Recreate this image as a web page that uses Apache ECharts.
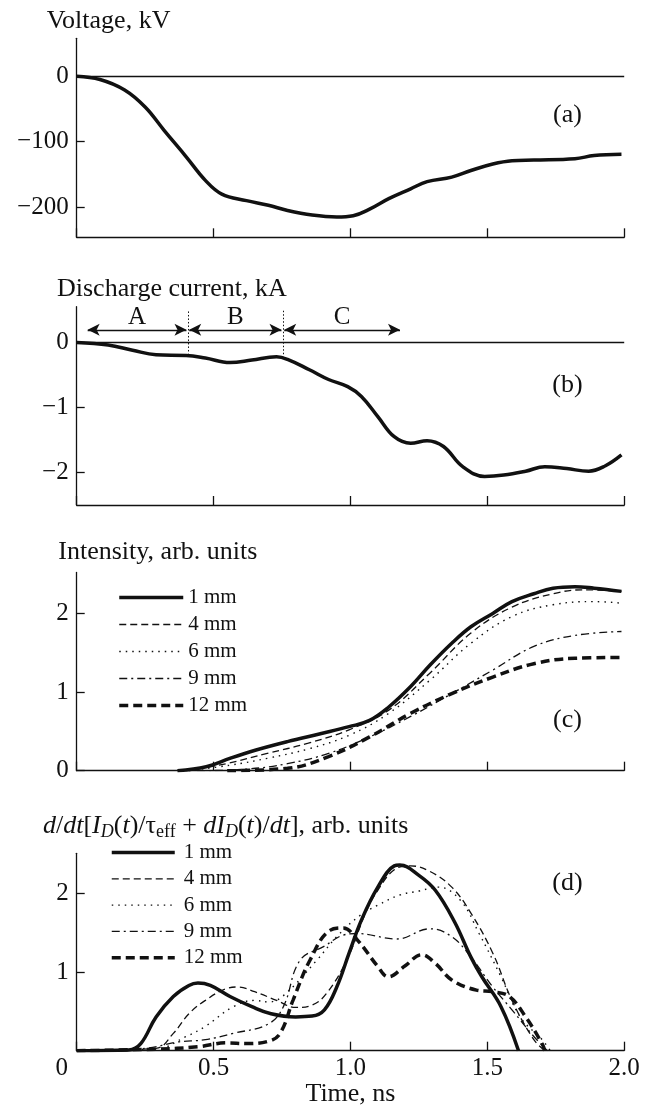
<!DOCTYPE html>
<html>
<head>
<meta charset="utf-8">
<script src="https://cdn.jsdelivr.net/npm/echarts@6/dist/echarts.min.js"></script>
<style>
	html, body { margin: 0; padding: 0; background: #fff; }
	#chart { width: 647px; height: 1110px; }
</style>
</head>
<body>
<div id="chart"></div>
<script>
// (a) voltage, kV
var voltage = [[0,0],[0.085,-5],[0.175,-21],[0.25,-47],[0.32,-83],[0.40,-123],[0.47,-159],[0.53,-180],[0.62,-190],[0.70,-197],[0.77,-205],[0.86,-212],[0.95,-215],[1.01,-213],[1.07,-203],[1.14,-187],[1.22,-172],[1.28,-161],[1.37,-154],[1.44,-144],[1.52,-134],[1.59,-129],[1.67,-128],[1.82,-126],[1.89,-121],[1.99,-119]];
// (b) discharge current, kA
var current = [[0,0],[0.115,-0.04],[0.204,-0.12],[0.29,-0.19],[0.40,-0.20],[0.47,-0.24],[0.56,-0.31],[0.64,-0.27],[0.73,-0.22],[0.77,-0.26],[0.85,-0.42],[0.92,-0.57],[0.99,-0.68],[1.04,-0.83],[1.10,-1.14],[1.16,-1.45],[1.22,-1.55],[1.28,-1.51],[1.34,-1.60],[1.41,-1.91],[1.49,-2.06],[1.56,-2.04],[1.64,-1.98],[1.71,-1.91],[1.79,-1.94],[1.87,-1.98],[1.93,-1.90],[1.99,-1.73]];
// (c) intensity
var intensity1 = [[0.368,0],[0.473,0.05],[0.562,0.16],[0.652,0.26],[0.77,0.37],[0.89,0.47],[0.995,0.56],[1.07,0.64],[1.14,0.81],[1.22,1.07],[1.29,1.34],[1.37,1.62],[1.44,1.83],[1.52,2.0],[1.59,2.15],[1.67,2.25],[1.74,2.32],[1.82,2.34],[1.89,2.32],[1.99,2.28]];
var intensity4 = [[0.40,0],[0.547,0.09],[0.696,0.22],[0.846,0.35],[0.995,0.52],[1.14,0.77],[1.29,1.24],[1.44,1.75],[1.59,2.08],[1.74,2.25],[1.85,2.30],[1.99,2.28]];
var intensity6 = [[0.41,0],[0.56,0.07],[0.70,0.16],[0.85,0.28],[0.995,0.45],[1.14,0.73],[1.29,1.15],[1.44,1.62],[1.59,1.96],[1.74,2.11],[1.89,2.15],[1.99,2.13]];
var intensity9 = [[0.44,0],[0.62,0.02],[0.77,0.09],[0.92,0.22],[1.07,0.43],[1.22,0.69],[1.37,0.98],[1.52,1.28],[1.67,1.58],[1.82,1.72],[1.99,1.77]];
var intensity12 = [[0.55,0],[0.77,0.03],[0.92,0.18],[1.07,0.43],[1.22,0.73],[1.37,0.98],[1.52,1.19],[1.67,1.36],[1.82,1.43],[1.99,1.44]];
// (d) derivative
var deriv1 = [[0,0],[0.19,0.01],[0.234,0.09],[0.29,0.43],[0.353,0.69],[0.41,0.83],[0.443,0.86],[0.488,0.83],[0.56,0.69],[0.64,0.56],[0.71,0.47],[0.80,0.43],[0.86,0.44],[0.905,0.52],[0.95,0.81],[0.995,1.24],[1.04,1.66],[1.10,2.08],[1.16,2.35],[1.18,2.36],[1.25,2.23],[1.31,2.04],[1.38,1.64],[1.44,1.19],[1.48,0.94],[1.55,0.56],[1.614,0]];
var deriv4 = [[0,0],[0.29,0.03],[0.353,0.22],[0.41,0.47],[0.47,0.64],[0.547,0.79],[0.59,0.81],[0.65,0.75],[0.73,0.64],[0.80,0.55],[0.86,0.58],[0.913,0.73],[0.986,1.15],[1.06,1.79],[1.10,2.04],[1.16,2.30],[1.22,2.35],[1.29,2.28],[1.37,2.08],[1.44,1.75],[1.52,1.24],[1.59,0.64],[1.67,0.14],[1.71,0]];
var deriv6 = [[0,0],[0.29,0.02],[0.40,0.18],[0.47,0.31],[0.572,0.56],[0.65,0.64],[0.70,0.62],[0.755,0.70],[0.877,1.15],[0.95,1.45],[1.035,1.72],[1.10,1.85],[1.18,1.98],[1.25,2.03],[1.32,2.08],[1.40,1.92],[1.47,1.49],[1.55,0.94],[1.62,0.43],[1.70,0.14],[1.73,0]];
var deriv9 = [[0,0],[0.25,0.03],[0.368,0.11],[0.47,0.14],[0.572,0.22],[0.70,0.34],[0.755,0.56],[0.816,1.15],[0.905,1.33],[0.974,1.47],[1.025,1.49],[1.169,1.42],[1.29,1.55],[1.37,1.45],[1.44,1.19],[1.52,0.81],[1.59,0.52],[1.67,0.18],[1.72,0]];
var deriv12 = [[0,0],[0.29,0.02],[0.443,0.05],[0.547,0.10],[0.62,0.09],[0.70,0.12],[0.743,0.22],[0.79,0.64],[0.852,1.15],[0.925,1.53],[0.974,1.56],[1.025,1.41],[1.10,1.07],[1.138,0.94],[1.20,1.08],[1.26,1.22],[1.31,1.11],[1.37,0.90],[1.46,0.77],[1.52,0.75],[1.58,0.69],[1.64,0.43],[1.70,0.09],[1.71,0]];

var timeTicks = [0, 0.5, 1.0, 1.5, 2.0];
var voltageTicks = [-200, -100, 0];
var currentTicks = [-2, -1, 0];
var intensityTicks = [0, 1, 2];
var derivTicks = [1, 2];
var legendNames = ['1 mm', '4 mm', '6 mm', '9 mm', '12 mm'];

var FONT = '"Liberation Serif", "Times New Roman", serif';
var INK = '#111';

var chart = echarts.init(document.getElementById('chart'));

var tops = [38.3, 306.7, 572.5, 853.3];
var heights = [199, 198.3, 198.2, 197.4];

function minusFormat(v){
	return v < 0 ? '\u2212' + (-v) : String(v);
}

function makeX(i){
	return {
		type: 'value',
		gridIndex: i,
		min: timeTicks[0],
		max: timeTicks[timeTicks.length - 1],
		interval: 0.5,
		axisLine: { onZero: false, lineStyle: { color: INK, width: 1.3 } },
		axisTick: { show: true, inside: true, length: 9, lineStyle: { color: INK, width: 1.3 } },
		splitLine: { show: false },
		axisLabel: {
			show: i === 3,
			margin: 5,
			color: INK,
			fontFamily: FONT,
			fontSize: 25,
			formatter: function(v){
				if (v === 0) return '{z|0}';
				return v.toFixed(1);
			},
			rich: {
				z: { fontFamily: FONT, fontSize: 25, color: INK, padding: [0, 30, 0, 0] }
			}
		},
		name: i === 3 ? 'Time, ns' : '',
		nameLocation: 'middle',
		nameGap: 25,
		nameTextStyle: { color: INK, fontFamily: FONT, fontSize: 26, verticalAlign: 'top' }
	};
}

function makeY(i, min, max, ticks){
	return {
		type: 'value',
		gridIndex: i,
		min: min,
		max: max,
		axisLine: { show: true, onZero: false, lineStyle: { color: INK, width: 1.3 } },
		axisTick: { show: true, inside: true, length: 8, customValues: ticks, lineStyle: { color: INK, width: 1.3 } },
		splitLine: { show: false },
		axisLabel: {
			customValues: ticks,
			margin: 8,
			color: INK,
			fontFamily: FONT,
			fontSize: 25,
			formatter: minusFormat
		}
	};
}

var styles = [
	{ width: 3.5, type: 'solid' },
	{ width: 1.3, type: [7, 4] },
	{ width: 1.4, type: [1.5, 5] },
	{ width: 1.3, type: [8, 4, 2, 4] },
	{ width: 3.5, type: [9, 5] }
];

function curve(name, data, grid, st){
	return {
		name: name,
		type: 'line',
		xAxisIndex: grid,
		yAxisIndex: grid,
		data: data,
		smooth: 0.4,
		symbol: 'none',
		silent: true,
		itemStyle: { color: INK },
		lineStyle: { color: INK, width: st.width, type: st.type, cap: 'butt' }
	};
}

var zeroLine = { yAxis: 0, lineStyle: { color: INK, width: 1.3, type: 'solid' } };

var voltageSeries = curve('voltage', voltage, 0, styles[0]);
voltageSeries.markLine = {
	silent: true,
	symbol: 'none',
	label: { show: false },
	data: [zeroLine]
};

function arrowLine(x1, x2, y, text){
	return [
		{ coord: [x1, y], symbol: 'arrow', symbolSize: [9, 12],
			lineStyle: { color: INK, width: 1.3, type: 'solid' },
			label: { show: true, position: 'middle', distance: 0, formatter: text, color: INK, fontFamily: FONT, fontSize: 25 } },
		{ coord: [x2, y], symbol: 'arrow', symbolSize: [9, 12] }
	];
}

function dottedLine(x, y1, y2){
	return [
		{ coord: [x, y1], lineStyle: { color: INK, width: 1, type: [1.5, 2] } },
		{ coord: [x, y2] }
	];
}

var currentSeries = curve('current', current, 1, styles[0]);
currentSeries.markLine = {
	silent: true,
	symbol: 'none',
	label: { show: false },
	data: [
		zeroLine,
		dottedLine(0.406, 0.477, -0.174),
		dottedLine(0.753, 0.488, -0.215),
		arrowLine(0.04, 0.401, 0.195, 'A'),
		arrowLine(0.411, 0.748, 0.195, 'B'),
		arrowLine(0.758, 1.181, 0.195, 'C')
	]
};

var intensitySets = [intensity1, intensity4, intensity6, intensity9, intensity12];
var derivSets = [deriv1, deriv4, deriv6, deriv9, deriv12];

var series = [voltageSeries, currentSeries];
intensitySets.forEach(function(d, k){
	series.push(curve(legendNames[k], d, 2, styles[k]));
});
derivSets.forEach(function(d, k){
	series.push(curve(legendNames[k], d, 3, styles[k]));
});

function legendAt(left, top, itemWidth, gap, padLeft){
	return {
		orient: 'vertical',
		left: left,
		top: top,
		itemWidth: itemWidth,
		itemHeight: 14,
		itemGap: gap,
		selectedMode: false,
		data: legendNames,
		itemStyle: { opacity: 0 },
		lineStyle: { width: 'inherit', type: 'inherit', color: 'inherit' },
		textStyle: { color: INK, fontFamily: FONT, fontSize: 21, padding: [0, 0, 0, padLeft] }
	};
}

function label(x, y, text, align){
	return {
		type: 'text',
		x: x,
		y: y,
		silent: true,
		style: {
			text: text,
			fill: INK,
			font: '26px ' + FONT,
			align: align || 'left',
			verticalAlign: 'middle'
		}
	};
}

var derivTitle = {
	type: 'text',
	x: 43,
	y: 826,
	silent: true,
	style: {
		text: '{i|d}/{i|dt}[{i|I}{si|D}({i|t})/\u03c4{s|eff} + {i|dI}{si|D}({i|t})/{i|dt}], arb. units',
		fill: INK,
		font: '26px ' + FONT,
		verticalAlign: 'middle',
		rich: {
			i: { fontFamily: FONT, fontSize: 26, fontStyle: 'italic', fill: INK },
			si: { fontFamily: FONT, fontSize: 18, fontStyle: 'italic', fill: INK, padding: [12, 0, 0, 0] },
			s: { fontFamily: FONT, fontSize: 18, fill: INK, padding: [12, 0, 0, 0] }
		}
	}
};

chart.setOption({
	backgroundColor: '#fff',
	animation: false,
	grid: tops.map(function(t, i){
		return { left: 76.7, width: 547.5, top: t, height: heights[i] };
	}),
	xAxis: [makeX(0), makeX(1), makeX(2), makeX(3)],
	yAxis: [
		makeY(0, -246, 58, voltageTicks),
		makeY(1, -2.5, 0.55, currentTicks),
		makeY(2, 0, 2.52, intensityTicks),
		makeY(3, 0, 2.51, derivTicks)
	],
	legend: [
		legendAt(112.5, 582, 64, 6, 0),
		legendAt(105, 837, 63, 5.3, 4)
	],
	graphic: [
		label(46.7, 21.3, 'Voltage, kV'),
		label(57, 288.8, 'Discharge current, kA'),
		label(58.3, 552, 'Intensity, arb. units'),
		derivTitle,
		label(567.5, 115, '(a)', 'center'),
		label(567.5, 385, '(b)', 'center'),
		label(567.5, 720, '(c)', 'center'),
		label(567.5, 883, '(d)', 'center')
	],
	series: series
});
</script>
</body>
</html>
